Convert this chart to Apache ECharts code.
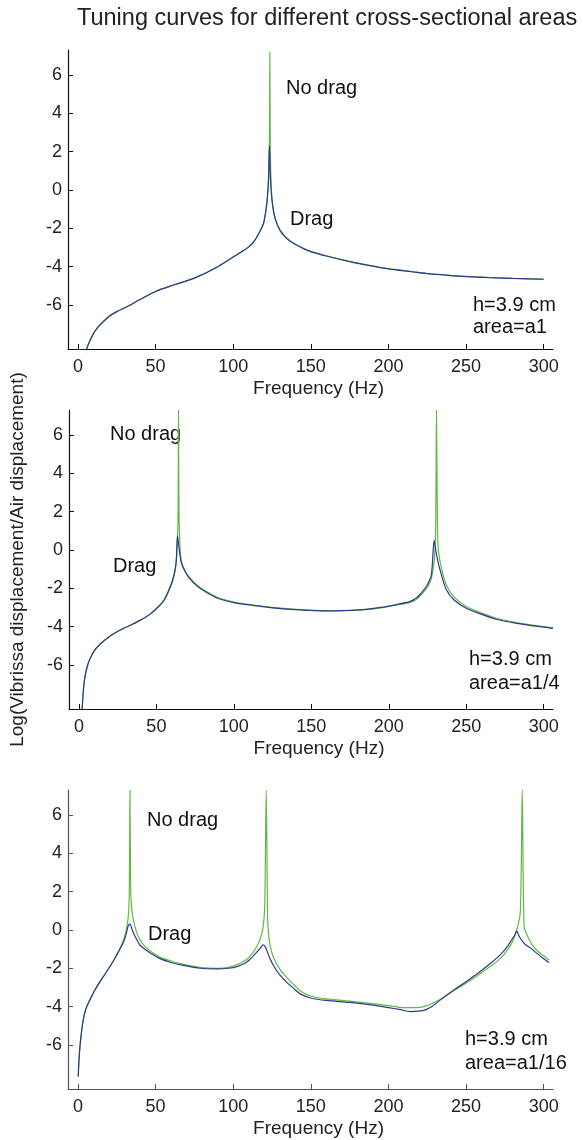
<!DOCTYPE html>
<html>
<head>
<meta charset="utf-8">
<script src="https://cdn.jsdelivr.net/npm/echarts@6/dist/echarts.min.js"></script>
<style>
  html, body { margin: 0; padding: 0; background: #fff; }
  #main { width: 583px; height: 1140px; }
</style>
</head>
<body>
<div id="main"></div>
<script>
// 三个面板：a1, a1/4, a1/16
var xTicks = [0, 50, 100, 150, 200, 250, 300];
var yTicks = [-6, -4, -2, 0, 2, 4, 6];

// panel 1, area = a1
var p1DragF = [5.6, 7, 10, 13, 16, 20, 25, 31, 40, 50, 62, 75, 88, 100, 106, 110, 113, 117, 119.5, 121, 122, 122.8, 123.3, 123.8, 124.5, 125.5, 127, 130, 134, 139, 145, 150, 160, 175, 190, 200, 215, 225, 240, 250, 265, 280, 300];
var p1Drag = [-8.3, -8.0, -7.5, -7.15, -6.9, -6.6, -6.35, -6.12, -5.72, -5.3, -4.95, -4.6, -4.1, -3.5, -3.2, -2.97, -2.74, -2.2, -1.75, -1.1, -0.4, 0.6, 2.3, 1.0, -0.1, -0.9, -1.5, -2.1, -2.5, -2.8, -3.05, -3.22, -3.45, -3.74, -3.98, -4.12, -4.27, -4.37, -4.47, -4.52, -4.58, -4.62, -4.66];
var p1NoDragF = [5.6, 7, 10, 13, 16, 20, 25, 31, 40, 50, 62, 75, 88, 100, 106, 110, 113, 117, 119.5, 121, 122, 122.8, 123.3, 123.6, 123.9, 124.5, 125.5, 127, 130, 134, 139, 145, 150, 160, 175, 190, 200, 215, 225, 240, 250, 265, 280, 300];
var p1NoDrag = [-8.3, -8.0, -7.5, -7.15, -6.9, -6.6, -6.35, -6.12, -5.72, -5.3, -4.95, -4.6, -4.1, -3.5, -3.2, -2.97, -2.74, -2.2, -1.78, -1.15, -0.45, 0.7, 2.4, 7.2, 2.4, 0.2, -0.8, -1.45, -2.05, -2.47, -2.78, -3.04, -3.21, -3.44, -3.73, -3.97, -4.11, -4.26, -4.36, -4.46, -4.51, -4.57, -4.61, -4.65];

// panel 2, area = a1/4
var p2DragF = [2.1, 2.8, 3.6, 5, 6.8, 10, 14.3, 20, 27, 34, 40, 46, 51, 55, 59, 61.5, 62.8, 63.6, 64.5, 66, 68, 71, 76.5, 83, 89.5, 100, 111, 125, 143, 160, 175, 185, 195, 205, 213.5, 218, 222, 225, 227.5, 229.3, 230.5, 232, 234, 237, 242, 250, 260, 270, 285, 295, 306];
var p2Drag = [-8.3, -7.4, -6.78, -6.2, -5.74, -5.25, -4.87, -4.5, -4.17, -3.9, -3.65, -3.35, -2.98, -2.6, -1.9, -1.25, -0.6, 0.75, 0.2, -0.65, -1.05, -1.45, -1.9, -2.25, -2.52, -2.75, -2.88, -3.02, -3.13, -3.18, -3.15, -3.1, -3.0, -2.85, -2.7, -2.5, -2.15, -1.8, -1.3, 0.5, -0.1, -0.7, -1.3, -2.05, -2.6, -3.04, -3.36, -3.63, -3.86, -3.98, -4.09];
var p2NoDragF = [2.1, 2.8, 3.6, 5, 6.8, 10, 14.3, 20, 27, 34, 40, 46, 51, 55, 59, 61.5, 62.8, 63.6, 64.0, 64.3, 64.6, 65.2, 66, 68, 71, 76.5, 83, 89.5, 100, 111, 125, 143, 160, 175, 185, 195, 205, 213.5, 218, 222, 225, 227.5, 229.3, 230.2, 230.8, 231.4, 232, 234, 237, 242, 250, 260, 270, 285, 295, 306];
var p2NoDrag = [-8.3, -7.4, -6.78, -6.2, -5.74, -5.25, -4.87, -4.5, -4.17, -3.9, -3.65, -3.35, -3.0, -2.65, -1.98, -1.35, -0.6, 0.4, 2.0, 7.3, 2.0, 0.3, -0.5, -1.0, -1.4, -1.85, -2.2, -2.48, -2.72, -2.86, -3.0, -3.12, -3.18, -3.16, -3.12, -3.02, -2.88, -2.75, -2.58, -2.25, -1.95, -1.5, -0.6, 0.8, 7.3, 1.5, 0.0, -0.95, -1.8, -2.45, -2.95, -3.3, -3.58, -3.83, -3.95, -4.07];

// panel 3, area = a1/16
var p3DragF = [0.2, 0.6, 1.3, 2.2, 3.4, 5, 7.7, 10.5, 14.2, 17.5, 20.6, 24, 27.1, 29.5, 31, 32.3, 33.5, 35, 37.5, 40, 43, 46.5, 52.9, 60, 68, 78.7, 89.5, 97, 103, 106.6, 110, 113, 115.3, 117.5, 119.2, 120.5, 122, 124, 127, 130, 134.7, 139, 143.4, 150, 160, 175, 190, 200, 207, 214.2, 222.8, 228, 233.5, 241, 248.6, 257, 265.8, 272, 276.6, 279.5, 281.5, 282.6, 284, 286, 288, 291.6, 296, 300, 303.4];
var p3Drag = [-7.65, -6.9, -6.09, -5.4, -4.7, -4.15, -3.65, -3.2, -2.7, -2.3, -1.91, -1.45, -1.0, -0.6, -0.25, 0.2, 0.3, 0.0, -0.45, -0.8, -1.0, -1.2, -1.5, -1.7, -1.85, -2.0, -2.03, -2.0, -1.9, -1.78, -1.6, -1.35, -1.15, -0.95, -0.78, -0.85, -1.15, -1.55, -2.0, -2.35, -2.75, -3.05, -3.35, -3.55, -3.68, -3.78, -3.92, -4.05, -4.15, -4.26, -4.2, -4.0, -3.65, -3.2, -2.78, -2.3, -1.74, -1.3, -0.87, -0.5, -0.25, -0.05, -0.3, -0.55, -0.75, -0.95, -1.25, -1.5, -1.7];
var p3NoDragF = [0.2, 0.6, 1.3, 2.2, 3.4, 5, 7.7, 10.5, 14.2, 17.5, 20.6, 24, 27.1, 29.5, 31, 32.3, 33.0, 33.5, 34.0, 34.8, 35.7, 37.5, 40, 43, 46.5, 52.9, 60, 68, 78.7, 89.5, 97, 103, 106.6, 110, 113, 115.3, 117.5, 119.2, 120.3, 121.3, 122.2, 123, 124, 126, 130, 134.7, 139, 143.4, 150, 160, 175, 190, 200, 210, 218, 225, 233.5, 241, 248.6, 257, 265.8, 272, 276.6, 280, 283, 285, 286.2, 287.4, 289.5, 292, 296, 300, 303.4];
var p3NoDrag = [-7.65, -6.9, -6.09, -5.4, -4.7, -4.15, -3.65, -3.2, -2.7, -2.3, -1.91, -1.45, -0.95, -0.5, -0.05, 0.6, 1.6, 7.3, 2.0, 1.0, 0.52, -0.05, -0.52, -0.85, -1.1, -1.42, -1.62, -1.8, -1.95, -2.0, -1.95, -1.8, -1.65, -1.45, -1.15, -0.85, -0.45, 0.1, 1.2, 7.3, 0.5, -0.35, -0.9, -1.45, -2.05, -2.5, -2.85, -3.2, -3.45, -3.6, -3.72, -3.85, -3.95, -4.05, -4.05, -3.95, -3.62, -3.22, -2.85, -2.4, -1.9, -1.5, -1.05, -0.6, 0.1, 1.0, 7.3, 0.17, -0.3, -0.7, -1.1, -1.35, -1.57];

var GREEN = '#63b946';
var BLUE = '#2c3a8c';
var FONT = 'Liberation Sans, Arial, sans-serif';

function pairs(f, v) {
	return f.map(function (x, i) { return [x, v[i]]; });
}

var grids = [
	{ left: 68, right: 30, top: 50, height: 299 },
	{ left: 68, right: 30, top: 410, height: 299 },
	{ left: 68, right: 30, top: 790, height: 299 }
];
var axisColor = ['#111', '#111', '#555'];

var xAxes = [], yAxes = [];
for (var i = 0; i < 3; i++) {
	xAxes.push({
		type: 'value', gridIndex: i, min: -6.4, max: 306,
		name: 'Frequency (Hz)', nameLocation: 'middle', nameGap: 30,
		nameTextStyle: { fontSize: 19, color: '#222', fontFamily: FONT, padding: [0, 0, 0, 16] },
		axisLine: { show: true, onZero: false, lineStyle: { color: axisColor[i], width: 1.2 } },
		axisTick: { show: true, inside: true, length: 5, customValues: xTicks, lineStyle: { color: axisColor[i] } },
		axisLabel: { customValues: xTicks, fontSize: 18, color: '#222', fontFamily: FONT, margin: 9 },
		splitLine: { show: false }
	});
	yAxes.push({
		type: 'value', gridIndex: i, min: -8.3, max: 7.3,
		axisLine: { show: true, onZero: false, lineStyle: { color: axisColor[i], width: 1.2 } },
		axisTick: { show: true, inside: true, length: 5, customValues: yTicks, lineStyle: { color: axisColor[i] } },
		axisLabel: { customValues: yTicks, fontSize: 18, color: '#222', fontFamily: FONT, margin: 6 },
		splitLine: { show: false }
	});
}
yAxes[1].name = 'Log(Vibrissa displacement/Air displacement)';
yAxes[1].nameLocation = 'middle';
yAxes[1].nameGap = 42;
yAxes[1].nameTextStyle = { fontSize: 19, color: '#222', fontFamily: FONT };

function line(name, idx, data, color) {
	return {
		name: name, type: 'line', xAxisIndex: idx, yAxisIndex: idx,
		data: data, showSymbol: false, symbol: 'none', clip: true,
		smooth: 0.3,
		lineStyle: { color: color, width: 1.2 }
	};
}

var series = [
	line('No drag', 0, pairs(p1NoDragF, p1NoDrag), GREEN),
	line('Drag', 0, pairs(p1DragF, p1Drag), BLUE),
	line('No drag', 1, pairs(p2NoDragF, p2NoDrag), GREEN),
	line('Drag', 1, pairs(p2DragF, p2Drag), BLUE),
	line('No drag', 2, pairs(p3NoDragF, p3NoDrag), GREEN),
	line('Drag', 2, pairs(p3DragF, p3Drag), BLUE)
];

function label(x, y, text) {
	return {
		type: 'text', x: x, y: y,
		style: { text: text, fontSize: 20, fontFamily: FONT, fill: '#111', verticalAlign: 'middle' }
	};
}

var chart = echarts.init(document.getElementById('main'));
chart.setOption({
	animation: false,
	backgroundColor: '#fff',
	title: {
		text: 'Tuning curves for different cross-sectional areas',
		left: 72, top: 2,
		textStyle: { fontSize: 23.5, fontWeight: 'normal', color: '#222', fontFamily: FONT }
	},
	grid: grids,
	xAxis: xAxes,
	yAxis: yAxes,
	series: series,
	graphic: [
		label(286, 88, 'No drag'),
		label(290, 219, 'Drag'),
		label(473, 305, 'h=3.9 cm'),
		label(473, 327, 'area=a1'),
		label(110, 434, 'No drag'),
		label(113, 566, 'Drag'),
		label(469, 659, 'h=3.9 cm'),
		label(469, 683, 'area=a1/4'),
		label(147, 820, 'No drag'),
		label(148, 934, 'Drag'),
		label(465, 1039, 'h=3.9 cm'),
		label(465, 1063, 'area=a1/16')
	]
});
</script>
</body>
</html>
